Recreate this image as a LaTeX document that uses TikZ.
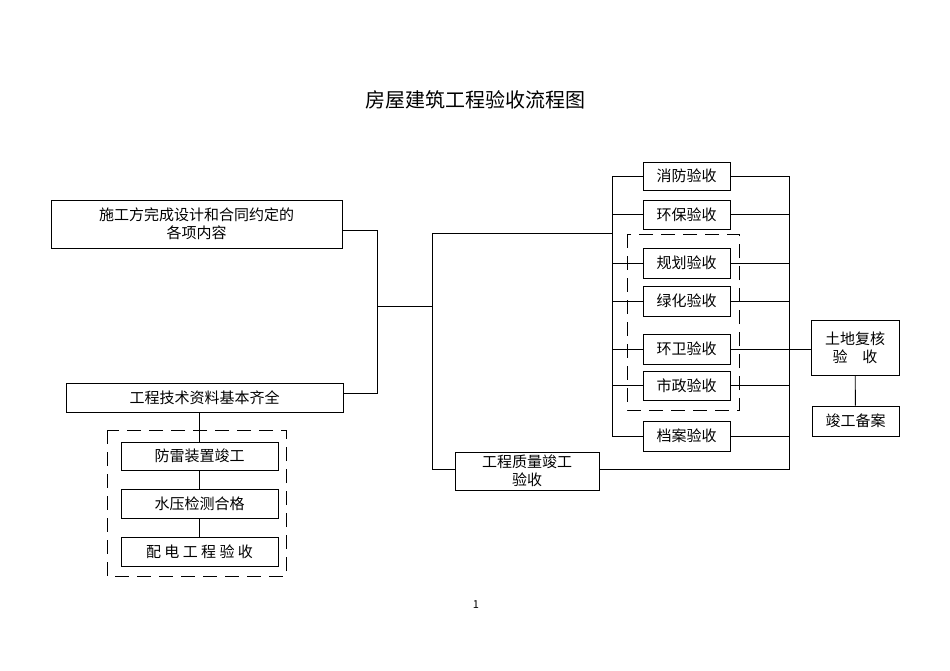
\documentclass[tikz,border=0pt]{standalone}
\usepackage{fontspec}
\setmainfont{Noto Sans CJK SC}
\begin{document}
\begin{tikzpicture}[x=1pt,y=-1pt,line width=0.9pt,
  bx/.style={draw,rectangle,inner sep=0pt,align=center,font=\fontsize{15}{18}\selectfont},
  dbox/.style={draw,dash pattern=on 14pt off 8pt,line width=1pt}]
\useasboundingbox (0,0) rectangle (950,670);
\node (title) at (475,100) {\fontsize{20}{24}\selectfont 房屋建筑工程验收流程图};
\node[bx,minimum width=291,minimum height=48] (A) at (196.5,224) {施工方完成设计和合同约定的\\各项内容};
\node[bx,minimum width=277,minimum height=29] (B) at (204.5,397.5) {工程技术资料基本齐全};
\draw[dbox] (107,430) rectangle (286,576);
\node[bx,minimum width=157,minimum height=28] (C1) at (199.5,456) {防雷装置竣工};
\node[bx,minimum width=157,minimum height=29] (C2) at (199.5,503.5) {水压检测合格};
\node[bx,minimum width=157,minimum height=29] (C3) at (199.5,551.5) {配 电 工 程 验 收};
\draw (B.south -| C1.north) -- (C1.north);
\draw (C1) -- (C2); \draw (C2) -- (C3);
\coordinate (m) at (377,306);
\coordinate (s) at (432,306);
\draw (A.east |- 0,230) -| (377,393) -- (B.east |- 0,393);
\draw (m) -- (s);
\node[bx,minimum width=144,minimum height=38] (D) at (527,471) {工程质量竣工\\验收};
\draw (432,233) -- (432,469) -- (D.west |- 0,469);
\draw (432,233) -- (612,233);
\draw[dbox,line width=0.8pt] (627,234) rectangle (739,410);
\foreach \n/\t/\y/\h in {r1/消防验收/176/28, r2/环保验收/214.5/29, r3/规划验收/263/30, r4/绿化验收/301/30, r5/环卫验收/349/30, r6/市政验收/385.5/29, r7/档案验收/436/30}{
  \node[bx,minimum width=87,minimum height=\h,fill=white] (\n) at (686.5,\y) {\t};
  \draw (612,\y) -- (\n.west);
  \draw (\n.east) -- (789,\y);
}
\draw (612,176) -- (612,436);
\draw (789,176) -- (789,469) -- (D.east |- 0,469);
\node[bx,minimum width=88,minimum height=55] (E) at (855,347.5) {土地复核\\验\quad 收};
\node[bx,minimum width=87,minimum height=30] (F) at (855.5,421) {竣工备案};
\draw (789,349) -- (E.west |- 0,349);
\draw (E) -- (F);
\node (pg) at (476,605) {\fontsize{11}{13}\selectfont 1};
\end{tikzpicture}
\end{document}
